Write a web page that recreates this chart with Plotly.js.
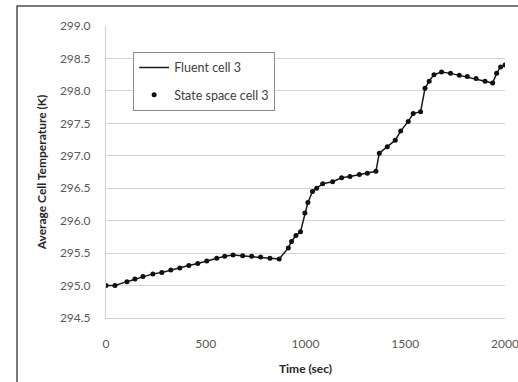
<!DOCTYPE html>
<html>
<head>
<meta charset="utf-8">
<script src="https://cdn.plot.ly/plotly-3.0.1.min.js"></script>
<style>
html,body{margin:0;padding:0;background:#fff;}
#chart{width:518px;height:382px;}
</style>
</head>
<body>
<div id="chart"></div>
<script>
// Time (sec)
var timeSec = [0, 45, 105, 145, 185, 235, 280, 325, 370, 415, 460, 505, 555, 595, 637, 685, 730, 775, 822, 868,
  914, 930, 952, 975, 997, 1012, 1035, 1056, 1086, 1136, 1181, 1223, 1270, 1310, 1353, 1370, 1410, 1450, 1477,
  1515, 1540, 1577, 1599, 1620, 1644, 1682, 1727, 1771, 1811, 1855, 1900, 1938, 1958, 1978, 2000];
// Fluent cell 3 (K)
var fluentTemp = [295.0, 295.0, 295.06, 295.1, 295.14, 295.18, 295.2, 295.24, 295.27, 295.31, 295.34, 295.38, 295.42, 295.45, 295.47, 295.46, 295.45, 295.44, 295.42, 295.41,
  295.58, 295.68, 295.77, 295.83, 296.12, 296.28, 296.45, 296.5, 296.57, 296.6, 296.66, 296.68, 296.71, 296.73, 296.76, 297.04, 297.14, 297.24, 297.38,
  297.53, 297.65, 297.68, 298.04, 298.15, 298.25, 298.29, 298.27, 298.24, 298.22, 298.19, 298.15, 298.12, 298.27, 298.37, 298.4];
// State space cell 3 (K)
var stateTemp = [295.0, 295.0, 295.06, 295.1, 295.14, 295.18, 295.2, 295.24, 295.27, 295.31, 295.34, 295.38, 295.42, 295.45, 295.47, 295.46, 295.45, 295.44, 295.42, 295.41,
  295.58, 295.68, 295.77, 295.83, 296.12, 296.28, 296.45, 296.5, 296.57, 296.6, 296.66, 296.68, 296.71, 296.73, 296.76, 297.04, 297.14, 297.24, 297.38,
  297.53, 297.65, 297.68, 298.04, 298.15, 298.25, 298.29, 298.27, 298.24, 298.22, 298.19, 298.15, 298.12, 298.27, 298.37, 298.4];
var xTicks = [0, 500, 1000, 1500, 2000];
var yTicks = [294.5, 295.0, 295.5, 296.0, 296.5, 297.0, 297.5, 298.0, 298.5, 299.0];

var FONT = 'Lato, "Open Sans", sans-serif';

var traces = [
  {x: timeSec, y: fluentTemp, type: 'scatter', mode: 'lines', name: 'Fluent cell 3',
   line: {color: '#1a1a1a', width: 1.5}, legendgroup: 'a'},
  {x: timeSec, y: stateTemp, type: 'scatter', mode: 'markers', name: 'State space cell 3',
   marker: {color: '#111', size: 5}, legendgroup: 'b'}
];

var layout = {
  width: 518, height: 382,
  margin: {l: 106, r: 13, t: 26, b: 64},
  paper_bgcolor: '#fff', plot_bgcolor: '#fff',
  font: {family: FONT, size: 12, color: '#595959'},
  showlegend: true,
  legend: {x: 0.068, y: 0.911, xanchor: 'left', yanchor: 'top',
    bordercolor: '#8c8c8c', borderwidth: 1, bgcolor: '#fff',
    font: {family: FONT, size: 12.5, color: '#404040'},
    traceorder: 'grouped', tracegroupgap: 8},
  xaxis: {range: [0, 2000], tickvals: xTicks, ticktext: xTicks.map(String),
    showgrid: false, zeroline: false, showline: true, linecolor: '#d0d0d0', linewidth: 1,
    ticks: '', ticklabelstandoff: 15, ticklabeloverflow: 'allow', fixedrange: true,
    tickfont: {family: FONT, size: 12, color: '#595959'},
    title: {text: 'Time (sec)', standoff: 14, font: {family: FONT, size: 12, color: '#262626', weight: 'bold'}}},
  yaxis: {range: [294.5, 299.0], tickvals: yTicks, ticktext: yTicks.map(function(v){return v.toFixed(1);}),
    showgrid: true, gridcolor: '#d4d4d4', gridwidth: 1, zeroline: false,
    showline: true, linecolor: '#d0d0d0', linewidth: 1,
    ticks: '', ticklabelstandoff: 12, ticklabeloverflow: 'allow', fixedrange: true,
    tickfont: {family: FONT, size: 12, color: '#595959'},
    title: {text: 'Average Cell Temperature (K)', standoff: 10, font: {family: FONT, size: 12, color: '#262626', weight: 'bold'}}},
  shapes: [
    {type: 'path', xref: 'paper', yref: 'paper',
     path: 'M -0.223,-0.3 L -0.223,1.0685 L 1.1,1.0685',
     line: {color: '#4d4d4d', width: 1.5}}
  ]
};

Plotly.newPlot('chart', traces, layout, {displayModeBar: false, staticPlot: true});
</script>
</body>
</html>
